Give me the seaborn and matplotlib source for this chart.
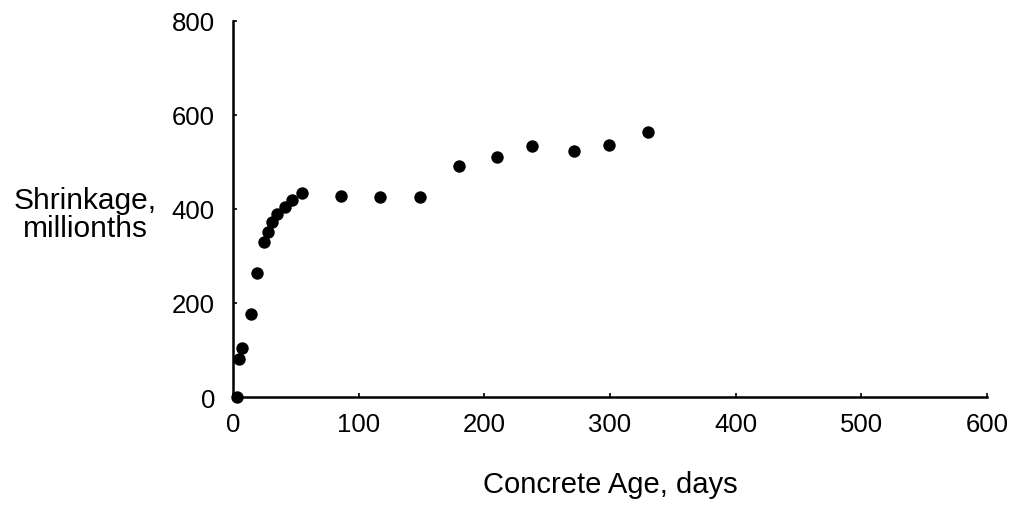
import pandas as pd
import matplotlib.pyplot as plt
import seaborn as sns

# concrete shrinkage readings
age_days = [3, 5, 7, 14, 19, 25, 28, 31, 35, 41, 47, 55,
            86, 117, 149, 180, 210, 238, 271, 299, 330]
shrinkage = [0, 80, 105, 177, 264, 330, 350, 372, 389, 404, 420, 435,
             428, 425, 425, 491, 511, 535, 523, 537, 564]

x_ticks = [0, 100, 200, 300, 400, 500, 600]
y_ticks = [0, 200, 400, 600, 800]

df = pd.DataFrame({"age": age_days, "shrink": shrinkage})

sns.set_style("ticks")
plt.rcParams["font.family"] = ["Liberation Sans", "DejaVu Sans"]

fig = plt.figure(figsize=(10.15, 5.1), dpi=100)
ax = fig.add_axes([0.2296, 0.2196, 0.7428, 0.7374])

sns.scatterplot(data=df, x="age", y="shrink", ax=ax, color="black",
                s=80, edgecolor="black", linewidth=0, clip_on=False)

ax.set_xlim(0, 600)
ax.set_ylim(0, 800)
ax.set_xticks(x_ticks)
ax.set_yticks(y_ticks)
ax.tick_params(direction="in", length=3, width=1.2, labelsize=18.5, colors="black")
ax.tick_params(axis="y", pad=13)
ax.tick_params(axis="x", pad=11)

sns.despine(ax=ax)
for side in ["left", "bottom"]:
    ax.spines[side].set_linewidth(1.8)
    ax.spines[side].set_color("black")

ax.set_xlabel("Concrete Age, days", fontsize=21, labelpad=24, color="black")
ax.set_ylabel("Shrinkage,\nmillionths", fontsize=21.5, rotation=0,
              ha="center", va="center", linespacing=1.0, color="black")
ax.yaxis.set_label_coords(-0.196, 0.487)

fig.savefig("out.png", dpi=100)
